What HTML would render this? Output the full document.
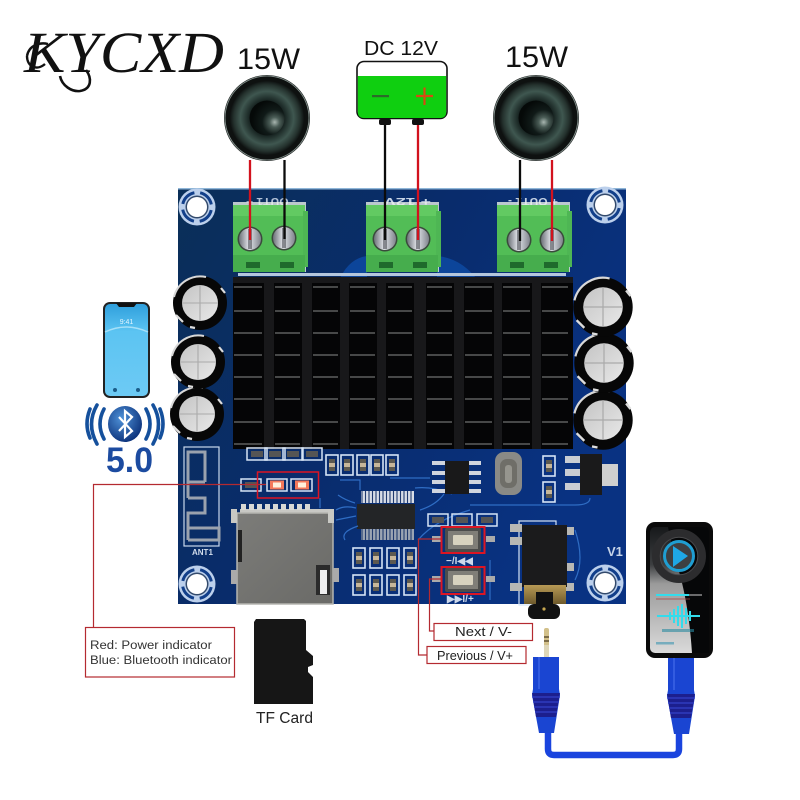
<!DOCTYPE html>
<html><head><meta charset="utf-8"><style>
html,body{margin:0;padding:0;background:#fff;width:800px;height:800px;overflow:hidden}
svg{display:block}
text{font-family:"Liberation Sans",sans-serif}
</style></head><body>
<svg width="800" height="800" viewBox="0 0 800 800" xmlns="http://www.w3.org/2000/svg">
<defs>
<linearGradient id="bd" x1="0" y1="0" x2="1" y2="0.5"><stop offset="0" stop-color="#0a2f58"/><stop offset="0.5" stop-color="#092c6c"/><stop offset="1" stop-color="#093282"/></linearGradient>
<radialGradient id="spk" cx="0.5" cy="0.5" r="0.5"><stop offset="0" stop-color="#0a100f"/><stop offset="0.45" stop-color="#141f1d"/><stop offset="0.72" stop-color="#3f5750"/><stop offset="0.9" stop-color="#24312d"/><stop offset="1" stop-color="#0f1312"/></radialGradient>
<radialGradient id="dome" cx="0.72" cy="0.62" r="0.65"><stop offset="0" stop-color="#a8b6b0"/><stop offset="0.22" stop-color="#4a5c56"/><stop offset="0.55" stop-color="#101a18"/><stop offset="1" stop-color="#050908"/></radialGradient>
<linearGradient id="sil" x1="0" y1="0" x2="1" y2="1"><stop offset="0" stop-color="#c4c4c4"/><stop offset="1" stop-color="#e8e8e8"/></linearGradient>
<linearGradient id="scr" x1="0" y1="0" x2="1" y2="0"><stop offset="0" stop-color="#6c7078"/><stop offset="0.45" stop-color="#e2e5ea"/><stop offset="1" stop-color="#7f838c"/></linearGradient>
<linearGradient id="pb" x1="0" y1="0" x2="0" y2="1"><stop offset="0" stop-color="#2f9fdc"/><stop offset="0.3" stop-color="#5cc4f2"/><stop offset="1" stop-color="#6dcaf4"/></linearGradient>
<radialGradient id="bt" cx="0.4" cy="0.35" r="0.7"><stop offset="0" stop-color="#4f92d8"/><stop offset="1" stop-color="#0a2f78"/></radialGradient>
<linearGradient id="pl" x1="0" y1="0" x2="0" y2="1"><stop offset="0" stop-color="#16181a"/><stop offset="0.3" stop-color="#3c3e40"/><stop offset="0.45" stop-color="#9a9a9a"/><stop offset="1" stop-color="#dadada"/></linearGradient>
<linearGradient id="gold" x1="0" y1="0" x2="0" y2="1"><stop offset="0" stop-color="#b89a55"/><stop offset="1" stop-color="#6e5a2c"/></linearGradient>
<linearGradient id="sd" x1="0" y1="0" x2="1" y2="1"><stop offset="0" stop-color="#7c7c79"/><stop offset="1" stop-color="#6a6a67"/></linearGradient>
<g id="hole"><circle r="18.500" fill="#bcd0ec"/><circle r="14.500" fill="none" stroke="#123f8a" stroke-width="3" stroke-dasharray="17 5.780" transform="rotate(12)"/><circle r="11.500" fill="#334a6c"/><circle r="10" fill="#fff"/></g>
<g id="cap"><circle r="27" fill="#070707"/><path d="M-26-6A27 27 0 0 1 6-26" fill="none" stroke="#d8d8d8" stroke-width="2"/><circle r="18" fill="url(#sil)"/><path d="M-18 0H18M0-18V18" stroke="#aaa" stroke-width="1.100"/><path d="M-24 12l7 7M21-15l4 5M-10 24l5 1" stroke="#ddd" stroke-width="2.200"/></g>
<g id="screw"><circle r="12.500" fill="#3a4a3c"/><circle r="11" fill="url(#scr)"/><rect x="-2" y="-10" width="4" height="20" fill="#4c4f55" opacity=".6"/></g>
<g id="term"><rect x="0" y="0" width="73" height="70" fill="#e8efe8" opacity=".8"/><rect x="0" y="3" width="72" height="67" fill="#52bd56"/><rect x="0" y="3" width="72" height="11" fill="#62ca62"/><rect x="70" y="9" width="5" height="56" fill="#4eb654"/><rect x="0" y="53" width="72" height="17" fill="#46ad4d"/><rect x="13" y="60" width="14" height="6" fill="#1f6a2c"/><rect x="47" y="60" width="14" height="6" fill="#1f6a2c"/></g>
<g id="spkr"><circle r="43" fill="#0e1110"/><circle r="42" fill="none" stroke="#7f8c88" stroke-width="1"/><circle r="37" fill="url(#spk)"/><circle r="17.500" fill="url(#dome)"/></g>
<g id="part"><rect x="-6" y="-10" width="12" height="20" fill="none" stroke="#d6e4f6" stroke-width="1.600"/><rect x="-3" y="-6" width="6" height="12" fill="#5d5a50"/><rect x="-3" y="-2" width="6" height="4" fill="#c7b79a"/></g>
<g id="parth"><rect x="-10" y="-6" width="20" height="12" fill="none" stroke="#d6e4f6" stroke-width="1.500"/><rect x="-6" y="-3" width="12" height="6" fill="#555"/></g>
<g id="btn"><rect x="-18" y="-12" width="36" height="24" rx="2" fill="#4c4c4b"/><rect x="-15" y="-9" width="30" height="18" fill="#807e78"/><rect x="-10" y="-5" width="20" height="10" rx="1" fill="#d8d2bf"/></g>
<g id="rib"><path d="M-13 0H13V32L14 38L8 76H-7L-14 38L-13 32Z" fill="#1a45d2"/><path d="M-14 36H14L10 60H-10Z" fill="#1c1f8e"/><path d="M-14 40H14M-13 45H13M-12 50H12M-11 55H11" stroke="#3242c8" stroke-width="1.200"/><path d="M-7 0V32" stroke="#4c74ef" stroke-width="2" opacity=".5"/></g>
</defs>
<rect width="800" height="800" fill="#fff"/>

<!-- logo -->
<text x="24" y="72" font-size="58" font-style="italic" textLength="200" lengthAdjust="spacingAndGlyphs" style='font-family:"Liberation Serif",serif' fill="#111">KYCXD</text>
<path d="M60 76C62 86 72 92 80 91C92 89 92 78 86 70" fill="none" stroke="#111" stroke-width="2.600"/>
<path d="M27 56C29 45 40 42 48 44M27 56C27 67 37 71 45 64" fill="none" stroke="#111" stroke-width="2.400"/>

<!-- top labels -->
<text x="237" y="69" font-size="30" fill="#111" textLength="63" lengthAdjust="spacingAndGlyphs">15W</text>
<text x="505" y="67" font-size="30" fill="#111" textLength="63" lengthAdjust="spacingAndGlyphs">15W</text>
<text x="364" y="55" font-size="20" fill="#111" textLength="74" lengthAdjust="spacingAndGlyphs">DC 12V</text>

<!-- speakers -->
<use href="#spkr" x="267" y="118"/>
<use href="#spkr" x="536" y="118"/>

<!-- battery -->
<rect x="357" y="61.500" width="90" height="57" rx="7" fill="#fff" stroke="#111" stroke-width="1.600"/>
<path d="M357.800 76H446.200V112Q446.200 118 440 118H364Q357.800 118 357.800 112Z" fill="#0fcf10"/>
<rect x="372" y="95" width="17" height="2.200" fill="#2c6a2a"/>
<path d="M416 96H433M424.500 87.500V105" stroke="#d64a12" stroke-width="2.200"/>
<rect x="379" y="119" width="12" height="6" rx="2" fill="#111"/><rect x="412" y="119" width="12" height="6" rx="2" fill="#111"/>

<!-- board -->
<rect x="178" y="188" width="448" height="416" fill="url(#bd)"/>
<rect x="178" y="188" width="448" height="1.500" fill="#8fb6d8"/>
<path d="M340 278Q350 258 367 256V278ZM437 256Q460 258 476 278H437Z" fill="#0c459a"/>
<use href="#hole" x="197" y="207"/><use href="#hole" x="605" y="205"/><use href="#hole" x="197" y="584"/><use href="#hole" x="605" y="583"/>

<!-- silk top -->
<g fill="#c5d2e4" font-size="11">
<text transform="translate(296 198) rotate(180)" font-weight="bold" textLength="50" lengthAdjust="spacingAndGlyphs" opacity=".9">- OUT1 +</text>
<text transform="translate(431 198) rotate(180)" font-weight="bold" textLength="58" lengthAdjust="spacingAndGlyphs">+ 12V -</text>
<text transform="translate(558 198) rotate(180)" font-weight="bold" textLength="50" lengthAdjust="spacingAndGlyphs">+ OUT1 -</text>
</g>

<!-- terminals -->
<use href="#term" x="233" y="202"/><use href="#term" x="366" y="202"/><use href="#term" x="497" y="202"/>
<use href="#screw" x="250" y="239"/><use href="#screw" x="284" y="238"/><use href="#screw" x="385" y="239"/><use href="#screw" x="418" y="239"/><use href="#screw" x="519" y="240"/><use href="#screw" x="552" y="240"/>

<!-- wires -->
<g stroke-width="2.300" fill="none">
<path d="M250 160V240" stroke="#d2121e"/><path d="M284.500 160V239" stroke="#0b0b0b"/>
<path d="M385 125V240" stroke="#0b0b0b"/><path d="M418 125V240" stroke="#d2121e"/>
<path d="M520 160V241" stroke="#0b0b0b"/><path d="M552 160V241" stroke="#d2121e"/>
</g>

<!-- heatsink -->
<rect x="238" y="273" width="328" height="3" fill="#b4c6dc"/>
<rect x="233" y="277" width="340" height="172" fill="#050506"/>
<g fill="#18181a"><rect x="233" y="277" width="340" height="6"/><rect x="264" y="277" width="10" height="172"/><rect x="302" y="277" width="10" height="172"/><rect x="340" y="277" width="9" height="172"/><rect x="377" y="277" width="9" height="172"/><rect x="414" y="277" width="12" height="172"/><rect x="454" y="277" width="10" height="172"/><rect x="494" y="277" width="8" height="172"/><rect x="532" y="277" width="9" height="172"/></g>
<path d="M234 287H262M275 287H300M313 287H338M350 287H375M388 287H412M427 287H452M465 287H492M503 287H530M542 287H568
M234 311H262M275 311H300M313 311H338M350 311H375M388 311H412M427 311H452M465 311H492M503 311H530M542 311H568
M234 333H262M275 333H300M313 333H338M350 333H375M388 333H412M427 333H452M465 333H492M503 333H530M542 333H568
M234 355H262M275 355H300M313 355H338M350 355H375M388 355H412M427 355H452M465 355H492M503 355H530M542 355H568
M234 377H262M275 377H300M313 377H338M350 377H375M388 377H412M427 377H452M465 377H492M503 377H530M542 377H568
M234 399H262M275 399H300M313 399H338M350 399H375M388 399H412M427 399H452M465 399H492M503 399H530M542 399H568
M234 422H262M275 422H300M313 422H338M350 422H375M388 422H412M427 422H452M465 422H492M503 422H530M542 422H568
M234 444H262M275 444H300M313 444H338M350 444H375M388 444H412M427 444H452M465 444H492M503 444H530M542 444H568" stroke="#6f7070" stroke-width="1.300"/>

<!-- caps -->
<use href="#cap" x="197" y="414"/><use href="#cap" x="198" y="362"/><use href="#cap" x="200" y="303"/>
<use href="#cap" transform="translate(603 420) scale(1.100)"/><use href="#cap" transform="translate(604 363) scale(1.100)"/><use href="#cap" transform="translate(603 307) scale(1.100)"/>

<!-- antenna -->
<rect x="184" y="447" width="35" height="99" fill="none" stroke="#c9d8ec" stroke-width="1.200"/>
<path d="M205 482V452H188V482H205M188 498H205V513H188V528H219V540H188" fill="none" stroke="#9aa2ae" stroke-width="3"/>
<path d="M188 482V498M188 528V540" fill="none" stroke="#9aa2ae" stroke-width="3"/>
<text x="192" y="555" font-size="8" font-weight="bold" fill="#d2ddec">ANT1</text>

<!-- small parts -->
<use href="#parth" x="257" y="454"/><use href="#parth" x="275" y="454"/><use href="#parth" x="293" y="454"/><use href="#parth" x="312" y="454"/>
<use href="#part" x="332" y="465"/><use href="#part" x="347" y="465"/><use href="#part" x="363" y="465"/><use href="#part" x="377" y="465"/><use href="#part" x="392" y="465"/>
<use href="#parth" x="251" y="485"/>

<!-- LEDs -->
<rect x="267" y="479" width="20" height="12" fill="none" stroke="#d6e4f6" stroke-width="1.500"/>
<rect x="291" y="479" width="21" height="12" fill="none" stroke="#d6e4f6" stroke-width="1.500"/>
<rect x="270" y="480.500" width="14" height="9" fill="#f4785a"/><rect x="273" y="482.500" width="8" height="5" fill="#fff0dc"/>
<rect x="295" y="480.500" width="14" height="9" fill="#f4785a"/><rect x="298" y="482.500" width="8" height="5" fill="#fff0dc"/>
<rect x="257.500" y="472" width="61" height="26" fill="none" stroke="#dd1523" stroke-width="1.500"/>

<!-- SD slot -->
<rect x="240" y="509" width="90" height="4" fill="#c8c8c4"/>
<g fill="#d9d9d5"><rect x="241" y="504" width="5" height="6"/><rect x="249" y="504" width="5" height="6"/><rect x="257" y="504" width="5" height="6"/><rect x="265" y="504" width="5" height="6"/><rect x="273" y="504" width="5" height="6"/><rect x="281" y="504" width="5" height="6"/><rect x="289" y="504" width="5" height="6"/><rect x="297" y="504" width="5" height="6"/><rect x="305" y="504" width="5" height="6"/></g>
<rect x="237" y="513" width="96" height="91" fill="url(#sd)"/>
<rect x="237" y="513" width="96" height="91" fill="none" stroke="#b5b5b0" stroke-width="1.500"/>
<rect x="231" y="509" width="6" height="14" fill="#c9c9c4"/><rect x="328" y="509" width="6" height="14" fill="#c9c9c4"/>
<rect x="231" y="570" width="6" height="14" fill="#aaa"/><rect x="333" y="568" width="6" height="14" fill="#aaa"/>
<rect x="238" y="530" width="4" height="32" fill="#222"/>
<rect x="316" y="565" width="14" height="30" fill="#2b2b2b"/><rect x="320" y="570" width="7" height="24" fill="#eee"/>

<!-- main chip -->
<rect x="361" y="491" width="53" height="12" fill="#d8dde6"/>
<path d="M362 491V503M365.500 491V503M369 491V503M372.500 491V503M376 491V503M379.500 491V503M383 491V503M386.500 491V503M390 491V503M393.500 491V503M397 491V503M400.500 491V503M404 491V503M407.500 491V503M411 491V503" stroke="#203a6e" stroke-width="1.100"/>
<rect x="357" y="504" width="58" height="25" fill="#232527"/>
<rect x="361" y="529" width="53" height="11" fill="#9aa4b2"/>
<path d="M362 529V540M365.500 529V540M369 529V540M372.500 529V540M376 529V540M379.500 529V540M383 529V540M386.500 529V540M390 529V540M393.500 529V540M397 529V540M400.500 529V540M404 529V540M407.500 529V540M411 529V540" stroke="#203a6e" stroke-width="1.100"/>
<path d="M338 495Q345 500 355 503M336 510Q344 505 356 508M336 520L356 516M345 540Q340 532 358 526M420 510Q436 505 444 494M415 488Q432 486 452 494M418 540Q435 520 470 510M320 498V508M340 480H360V490M390 478H430" fill="none" stroke="#2f6dc4" stroke-width="1.200"/>
<path d="M470 505H575Q590 505 590 498M575 530Q585 560 575 580M490 560V600" fill="none" stroke="#2f6dc4" stroke-width="1.200"/>

<!-- lower left part grid -->
<use href="#part" x="359" y="558"/><use href="#part" x="376" y="558"/><use href="#part" x="393" y="558"/><use href="#part" x="410" y="558"/>
<use href="#part" x="359" y="585"/><use href="#part" x="376" y="585"/><use href="#part" x="393" y="585"/><use href="#part" x="410" y="585"/>

<!-- upper middle -->
<use href="#part" x="549" y="466"/><use href="#part" x="549" y="492"/>
<g fill="#d0d5de"><rect x="432" y="461" width="13" height="4"/><rect x="432" y="471" width="13" height="4"/><rect x="432" y="480" width="13" height="4"/><rect x="432" y="489" width="13" height="4"/><rect x="468" y="461" width="13" height="4"/><rect x="468" y="471" width="13" height="4"/><rect x="468" y="480" width="13" height="4"/><rect x="468" y="489" width="13" height="4"/></g>
<rect x="445" y="461" width="24" height="33" fill="#19191a"/>
<rect x="495" y="452" width="27" height="43" rx="9" fill="#8a8a86"/><rect x="500" y="459" width="17" height="29" rx="7" fill="#6f6e68"/><rect x="505" y="465" width="7" height="18" rx="3" fill="#96958e"/>
<g fill="#c9cdd3"><rect x="565" y="456" width="15" height="7"/><rect x="565" y="469" width="15" height="7"/><rect x="565" y="483" width="15" height="7"/></g>
<rect x="580" y="454" width="22" height="41" fill="#1a1a1b"/>
<rect x="602" y="464" width="16" height="22" fill="#cfcfcf"/>

<!-- mid small parts -->
<use href="#parth" x="438" y="520"/><use href="#parth" x="462" y="520"/><use href="#parth" x="487" y="520"/>

<!-- buttons -->
<rect x="432" y="536" width="9" height="6" fill="#aaa"/><rect x="486" y="536" width="9" height="6" fill="#aaa"/>
<rect x="432" y="576" width="9" height="6" fill="#aaa"/><rect x="486" y="576" width="9" height="6" fill="#aaa"/>
<use href="#btn" x="463" y="540"/><use href="#btn" x="463" y="580"/>
<rect x="441.500" y="527" width="43" height="26" fill="none" stroke="#dd1523" stroke-width="2"/>
<rect x="441.500" y="567" width="43" height="27" fill="none" stroke="#dd1523" stroke-width="2"/>
<text x="446" y="564" font-size="10" font-weight="bold" fill="#cdd8ea">−/I◀◀</text>
<text x="447" y="602" font-size="10" font-weight="bold" fill="#cdd8ea">▶▶I/+</text>

<!-- jack -->
<rect x="519" y="521" width="37" height="84" fill="none" stroke="#d6e4f6" stroke-width="1.200"/>
<g fill="#b8b8b4"><rect x="510" y="524" width="12" height="8"/><rect x="510" y="537" width="12" height="8"/><rect x="510" y="583" width="12" height="8"/><rect x="566" y="527" width="8" height="8"/><rect x="566" y="563" width="8" height="8"/><rect x="566" y="583" width="8" height="8"/></g>
<rect x="522" y="525" width="45" height="62" fill="#1b1b1c"/>
<rect x="528" y="604" width="32" height="15" rx="6" fill="#111"/>
<rect x="524" y="585" width="42" height="19" fill="url(#gold)"/>
<path d="M536 604V592H553V604L548 610H541Z" fill="#111"/>
<circle cx="544" cy="609" r="1.600" fill="#c8a850"/>
<text x="607" y="556" font-size="13" font-weight="bold" fill="#c6d4e8">V1</text>

<!-- phone -->
<rect x="103" y="302" width="47" height="96" rx="7" fill="#222"/>
<rect x="105" y="304" width="43" height="92" rx="5" fill="url(#pb)"/>
<path d="M116 303H137L134 307H119Z" fill="#111"/>
<path d="M105 332Q126 322 148 332" fill="none" stroke="#a6e0f8" stroke-width="1.500"/>
<text x="126.500" y="324" font-size="7" text-anchor="middle" fill="#e4f6ff">9:41</text>
<circle cx="115" cy="390" r="2" fill="#1a5c88"/><circle cx="138" cy="390" r="2" fill="#1a5c88"/>

<!-- bluetooth -->
<g fill="none" stroke="#15509c" stroke-width="3.600" stroke-linecap="round">
<path d="M104 409Q96 424 104 439"/><path d="M97 405Q86 424 97 444"/><path d="M90 409Q84 424 90 438"/>
<path d="M146 409Q154 424 146 439"/><path d="M153 405Q164 424 153 444"/><path d="M160 409Q166 424 160 438"/>
</g>
<ellipse cx="125" cy="424" rx="17" ry="18" fill="url(#bt)"/>
<path d="M119 417L132 431L125 437V411L132 417L119 431" fill="none" stroke="#fff" stroke-width="2.200"/>
<text x="106" y="472" font-size="35" font-weight="bold" fill="#1c4ba0" textLength="47" lengthAdjust="spacingAndGlyphs">5.0</text>

<!-- callouts -->
<g fill="none" stroke="#b42a30" stroke-width="1.200">
<path d="M266 484.500H93.500V627"/>
<rect x="85.500" y="627.500" width="149" height="49.500" fill="#fff"/>
<path d="M441 539H418.500V655H427"/>
<path d="M441 579H429.500V631H434"/>
<rect x="434" y="623.500" width="98.500" height="17" fill="#fff"/>
<rect x="427" y="646.500" width="99" height="17" fill="#fff"/>
</g>
<text x="90" y="649" font-size="12.300" fill="#333" textLength="122" lengthAdjust="spacingAndGlyphs">Red: Power indicator</text>
<text x="90" y="664" font-size="12.300" fill="#333" textLength="142" lengthAdjust="spacingAndGlyphs">Blue: Bluetooth indicator</text>
<text x="455" y="636" font-size="13" fill="#222" textLength="57" lengthAdjust="spacingAndGlyphs">Next / V-</text>
<text x="437" y="660" font-size="12.500" fill="#222" textLength="76" lengthAdjust="spacingAndGlyphs">Previous / V+</text>

<!-- TF card -->
<path d="M256 619H304L306 621V650L313 656V665L308 667V672L313 677V704H254V622Z" fill="#161616"/>
<text x="256" y="723" font-size="15.500" fill="#222" textLength="57" lengthAdjust="spacingAndGlyphs">TF Card</text>

<!-- player -->
<rect x="646" y="522" width="67" height="136" rx="9" fill="#0a0a0a"/>
<rect x="650" y="527" width="59" height="126" rx="5" fill="url(#pl)"/>
<path d="M668 527H704Q709 527 709 532V653H692Q689 608 680 575Q674 555 668 527Z" fill="#060708"/>
<circle cx="679" cy="556" r="23" fill="none" stroke="#2c2c2e" stroke-width="8"/>
<circle cx="679" cy="556" r="18.800" fill="none" stroke="#4a4a4c" stroke-width="1"/>
<circle cx="679" cy="556" r="14.500" fill="#3d3f42" stroke="#1f9ed2" stroke-width="3"/>
<path d="M673 546L688 556L673 567Z" fill="#1ea7e6"/>
<path d="M656 595H702" stroke="#8c8c8c" stroke-width="1.500"/><path d="M656 595H689" stroke="#33dcec" stroke-width="2"/>
<path d="M656 599H690" stroke="#a04040" stroke-width=".7"/>
<path d="M657 616H700" stroke="#33dcec" stroke-width="2"/>
<path d="M670 612V620M674 609V623M678 606V626M682 604V628M686 608V624M690 611V621" stroke="#33dcec" stroke-width="2"/>
<rect x="662" y="629" width="32" height="3" fill="#2a8aa0" opacity=".6"/>
<rect x="656" y="642" width="18" height="2.500" fill="#3a94b0" opacity=".6"/>

<!-- audio cable -->
<path d="M548 730V749Q548 755 554 755H673Q679 755 679 749V730" fill="none" stroke="#1a44de" stroke-width="6.500"/>
<use href="#rib" x="546" y="657"/>
<use href="#rib" x="681" y="658"/>
<rect x="544" y="628" width="5" height="29" rx="2" fill="#d2c08a"/>
<rect x="544" y="645" width="5" height="12" fill="#ded6b8"/>
<path d="M544 637H549M544 641H549" stroke="#4a3a20" stroke-width="1.200"/>
</svg>
</body></html>
